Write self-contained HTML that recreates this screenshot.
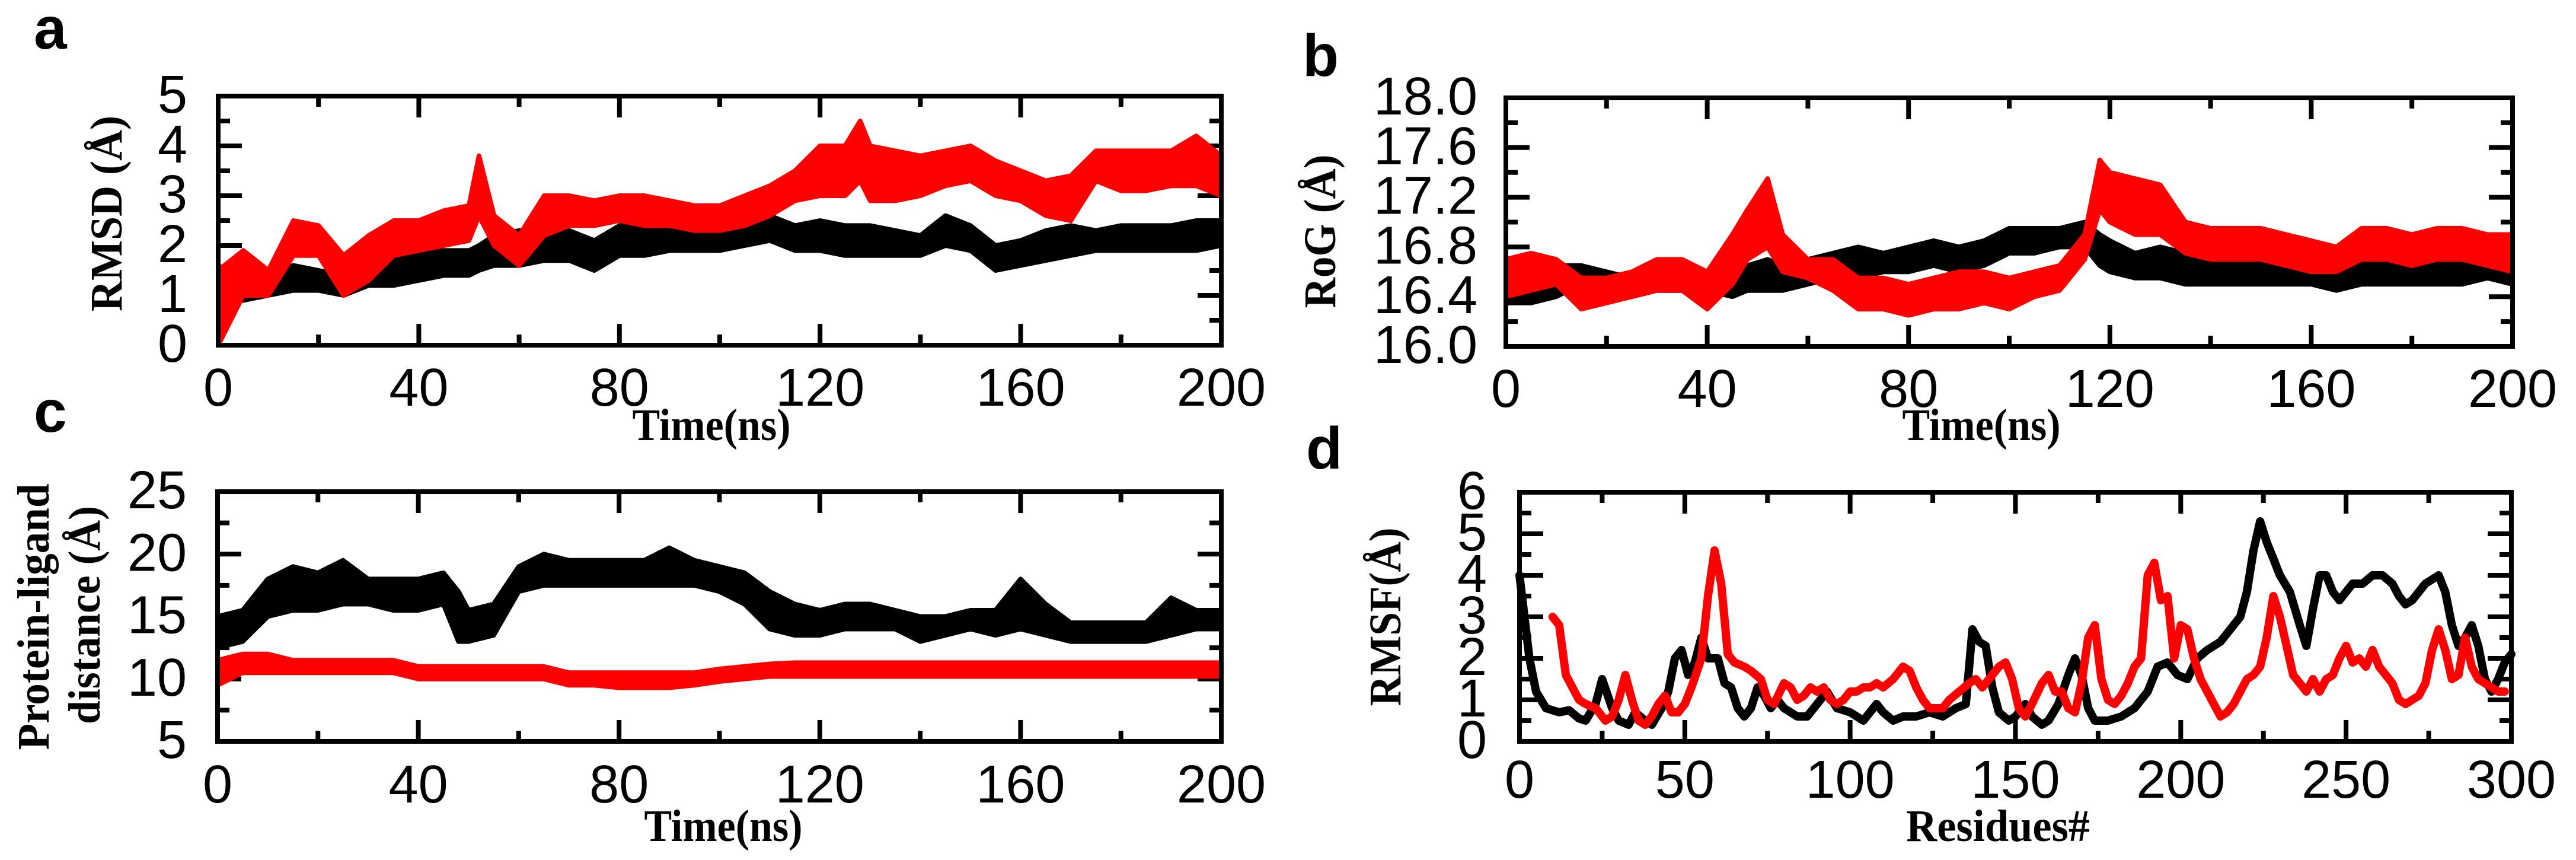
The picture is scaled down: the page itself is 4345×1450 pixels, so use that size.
<!DOCTYPE html>
<html><head><meta charset="utf-8"><style>
html,body{margin:0;padding:0;background:#fff;}
svg{display:block;}
.tk{font-family:"Liberation Sans",Arial,sans-serif;font-size:90px;fill:#000;}
.tt{font-family:"Liberation Serif","Times New Roman",serif;font-weight:bold;font-size:76px;fill:#000;}
.pl{font-family:"Liberation Sans",Arial,sans-serif;font-weight:bold;font-size:100px;fill:#000;}
</style></head><body>
<svg id="fig" width="4345" height="1450" viewBox="0 0 4345 1450" xmlns="http://www.w3.org/2000/svg">
<rect x="0" y="0" width="4345" height="1450" fill="#fff"/>
<text class="pl" x="57" y="82">a</text>
<text class="pl" x="2197" y="128">b</text>
<text class="pl" x="57" y="728">c</text>
<text class="pl" x="2203" y="790">d</text>
</svg>
<script>
// ---- Panel a: RMSD ----
const aTimes = [0,5,10,15,20,25,30,35,40,45,50,52,55,60,65,70,75,80,85,90,95,100,105,110,115,120,125,128,130,135,140,145,150,155,160,165,170,175,180,185,190,195,200];
const aBlackLo = [1.0,0.9,1.0,1.1,1.1,1.0,1.2,1.2,1.3,1.4,1.4,1.5,1.6,1.6,1.7,1.7,1.5,1.8,1.8,1.9,1.9,1.9,2.0,2.1,1.9,1.9,1.8,1.8,1.8,1.8,1.8,2.0,1.9,1.5,1.6,1.7,1.8,1.9,1.9,1.9,1.9,1.9,2.0];
const aBlackHi = [1.6,1.3,1.4,1.6,1.5,1.4,1.5,1.8,1.9,1.9,1.9,2.0,2.2,2.3,2.3,2.3,2.1,2.4,2.4,2.3,2.3,2.4,2.5,2.6,2.4,2.5,2.4,2.4,2.4,2.3,2.2,2.6,2.4,2.0,2.1,2.3,2.4,2.3,2.4,2.4,2.4,2.5,2.5];
const aRedLo = [0.0,1.0,1.0,1.8,1.8,1.0,1.3,1.8,1.9,2.0,2.1,2.6,2.0,1.6,2.2,2.4,2.4,2.5,2.4,2.4,2.3,2.3,2.4,2.6,2.9,3.0,3.0,3.3,2.9,2.9,3.0,3.2,3.3,3.0,2.9,2.6,2.5,3.3,3.1,3.1,3.2,3.2,3.0];
const aRedHi = [1.5,1.9,1.5,2.5,2.4,1.8,2.2,2.5,2.5,2.7,2.8,3.8,2.6,2.2,3.0,3.0,2.9,3.0,3.0,2.9,2.8,2.8,3.0,3.2,3.5,4.0,4.0,4.5,4.0,3.9,3.8,3.9,4.0,3.7,3.5,3.3,3.4,3.9,3.9,3.9,3.9,4.2,3.8];
const aXTicks = ['0','40','80','120','160','200'];
const aYTicks = ['0','1','2','3','4','5'];

// ---- Panel b: RoG ----
const bTimes = [0,5,10,15,20,25,30,35,40,45,48,52,55,60,65,70,75,80,85,90,95,100,105,110,115,118,120,125,130,135,140,145,150,155,160,165,170,175,180,185,190,195,200];
const bBlackLo = [16.35,16.35,16.4,16.5,16.4,16.4,16.45,16.45,16.45,16.4,16.45,16.45,16.45,16.5,16.55,16.55,16.6,16.6,16.65,16.6,16.65,16.75,16.75,16.8,16.8,16.65,16.6,16.55,16.55,16.5,16.5,16.5,16.5,16.5,16.5,16.45,16.5,16.5,16.5,16.5,16.5,16.55,16.5];
const bBlackHi = [16.55,16.55,16.65,16.65,16.6,16.55,16.6,16.6,16.6,16.6,16.65,16.7,16.65,16.7,16.75,16.8,16.75,16.8,16.85,16.8,16.85,16.95,16.95,16.95,17.0,16.9,16.85,16.75,16.8,16.75,16.75,16.75,16.75,16.75,16.75,16.7,16.75,16.75,16.75,16.75,16.75,16.78,16.75];
const bRedLo = [16.4,16.45,16.5,16.3,16.35,16.4,16.45,16.45,16.3,16.5,16.7,16.8,16.6,16.55,16.45,16.3,16.3,16.25,16.3,16.3,16.35,16.3,16.4,16.45,16.7,17.1,17.0,16.9,16.9,16.75,16.7,16.7,16.7,16.65,16.6,16.6,16.7,16.7,16.65,16.7,16.7,16.65,16.6];
const bRedHi = [16.7,16.75,16.7,16.55,16.55,16.6,16.7,16.7,16.6,16.9,17.1,17.35,16.9,16.7,16.7,16.55,16.55,16.5,16.55,16.6,16.6,16.55,16.6,16.65,16.9,17.5,17.4,17.35,17.3,17.0,16.95,16.95,16.95,16.9,16.85,16.8,16.95,16.95,16.9,16.95,16.95,16.9,16.9];
const bXTicks = ['0','40','80','120','160','200'];
const bYTicks = ['16.0','16.4','16.8','17.2','17.6','18.0'];

// ---- Panel c: Protein-ligand distance ----
const cTimes = [0,5,10,15,20,25,30,35,40,45,48,50,55,60,65,70,75,80,85,90,95,100,105,110,115,120,125,130,135,140,145,150,155,160,165,170,175,180,185,190,195,200];
const cBlackLo = [12.5,13,15,15.5,15.5,16,16,15.5,15.5,16,13,13,13.5,17,17.5,17.5,17.5,17.5,17.5,17.5,17.5,17,16,14,13.5,13.5,14,14,14,13,13.5,14,13.5,14,13.5,13,13,13,13,13.5,14,14];
const cBlackHi = [15,15.5,18,19,18.5,19.5,18,18,18,18.5,17,15.5,16,19,20,19.5,19.5,19.5,19.5,20.5,19.5,19,18.5,17,16,15.5,16,16,15.5,15,15,15.5,15.5,18,16,14.5,14.5,14.5,14.5,16.5,15.5,15.5];
const cRedLo = [9.5,10.5,10.5,10.5,10.5,10.5,10.5,10.5,10,10,10,10,10,10,10,9.5,9.5,9.3,9.3,9.3,9.5,9.8,10,10.2,10.2,10.2,10.2,10.2,10.2,10.2,10.2,10.2,10.2,10.2,10.2,10.2,10.2,10.2,10.2,10.2,10.2,10.2];
const cRedHi = [11.5,12,12,11.5,11.5,11.5,11.5,11.5,11,11,11,11,11,11,11,10.5,10.5,10.5,10.5,10.5,10.5,10.8,11,11.2,11.3,11.3,11.3,11.3,11.3,11.3,11.3,11.3,11.3,11.3,11.3,11.3,11.3,11.3,11.3,11.3,11.3,11.3];
const cXTicks = ['0','40','80','120','160','200'];
const cYTicks = ['5','10','15','20','25'];

// ---- Panel d: RMSF ----
const dBlackRes = [0,3,5,8,12,15,18,20,23,25,28,30,33,35,38,40,43,45,47,49,51,53,55,57,60,62,64,66,68,70,72,74,76,78,80,84,87,90,93,96,100,104,108,110,113,116,120,124,128,132,135,137,139,141,143,145,148,150,153,155,158,160,163,166,168,170,172,174,178,182,186,190,193,196,199,202,205,208,212,215,218,220,222,224,226,228,230,233,236,238,240,242,244,246,248,250,252,255,258,261,264,266,268,270,272,274,276,278,280,282,284,286,288,290,292,294,296,298,300];
const dBlackVal = [4.0,2.0,1.2,0.8,0.7,0.75,0.55,0.5,0.9,1.5,0.8,0.5,0.4,0.7,0.5,0.4,0.8,1.2,2.0,2.2,1.6,1.9,2.5,2.0,2.0,1.4,1.3,0.8,0.6,0.8,1.3,1.1,0.8,1.0,0.8,0.6,0.6,0.9,1.2,0.8,0.7,0.5,0.9,0.7,0.5,0.6,0.6,0.7,0.6,0.8,0.9,2.7,2.4,2.3,1.3,0.7,0.5,0.6,0.9,0.6,0.4,0.5,0.9,1.6,2.0,1.6,0.8,0.5,0.5,0.6,0.8,1.2,1.8,1.9,1.6,1.5,2.0,2.2,2.4,2.7,3.0,3.6,4.6,5.3,4.8,4.4,4.0,3.6,2.8,2.3,3.2,4.0,4.0,3.6,3.4,3.6,3.8,3.8,4.0,4.0,3.8,3.5,3.3,3.4,3.6,3.8,3.9,4.0,3.6,2.8,2.3,2.5,2.8,2.3,1.5,1.2,1.5,1.9,2.1];
const dRedRes = [10,12,14,16,18,20,23,26,28,30,32,34,36,38,40,42,44,46,48,50,52,55,57,59,61,63,65,68,70,73,75,77,80,82,84,86,88,90,92,94,96,98,100,102,104,106,108,110,113,116,118,120,122,124,126,128,130,133,136,138,140,142,145,147,149,151,153,155,158,160,162,164,166,168,170,172,174,176,178,180,182,184,186,188,190,192,194,196,198,200,202,204,206,208,210,212,214,216,218,220,222,224,226,228,230,232,234,236,238,240,242,244,246,248,250,252,254,256,258,260,262,264,266,268,270,272,274,276,278,280,282,284,286,288,290,292,294,296,298];
const dRedVal = [3.0,2.8,1.6,1.3,1.0,0.9,0.8,0.5,0.6,1.0,1.6,1.0,0.5,0.4,0.6,0.9,1.1,0.7,0.7,0.9,1.3,2.0,3.5,4.6,3.8,2.1,1.9,1.8,1.7,1.5,1.0,0.9,1.4,1.3,1.0,1.1,1.3,1.2,1.3,1.0,0.9,1.0,1.2,1.2,1.3,1.3,1.4,1.3,1.5,1.8,1.7,1.3,1.0,0.8,0.8,0.8,1.0,1.2,1.4,1.5,1.3,1.5,1.8,1.9,1.5,0.8,0.6,0.9,1.4,1.6,1.2,1.2,0.8,0.7,1.4,2.5,2.8,1.5,1.0,0.9,1.1,1.4,1.8,2.0,4.0,4.3,3.4,3.5,2.0,2.8,2.7,2.0,1.5,1.2,0.9,0.6,0.7,0.9,1.2,1.5,1.6,1.8,2.5,3.5,3.0,2.3,1.6,1.4,1.2,1.5,1.2,1.5,1.6,2.0,2.3,1.9,2.0,1.8,2.2,1.8,1.6,1.4,1.0,0.9,1.0,1.1,1.4,2.2,2.7,2.2,1.5,1.6,2.5,1.8,1.5,1.4,1.3,1.2,1.2];
const dXTicks = ['0','50','100','150','200','250','300'];
const dYTicks = ['0','1','2','3','4','5','6'];

const NS = 'http://www.w3.org/2000/svg';
const svg = document.getElementById('fig');
function mk(tag, attrs, parent){
  const e = document.createElementNS(NS, tag);
  for (const k in attrs) e.setAttribute(k, attrs[k]);
  (parent||svg).appendChild(e);
  return e;
}
function scale(d0,d1,r0,r1){ return v => r0 + (v-d0)/(d1-d0)*(r1-r0); }

function panel(id, box, xd, yd, xTicks, yTicks, xMinorStep, yMinorStep, xLabBase, yLabRight){
  const g = mk('g', {});
  
  
  const sx = scale(xd[0], xd[1], box.L, box.R);
  const sy = scale(yd[0], yd[1], box.B, box.T);
  const ticksG = mk('g', {stroke:'#000','stroke-width':8,fill:'none'}, g);
  
  
  const xmaj = xTicks.map(Number);
  for (let v = xd[0]; v <= xd[1] + 1e-9; v += xMinorStep){
    const isMaj = xmaj.some(m => Math.abs(m - v) < 1e-6);
    const len = isMaj ? 36 : 18;
    const x = sx(v);
    mk('line', {x1:x, y1:box.B, x2:x, y2:box.B - len}, ticksG);
    mk('line', {x1:x, y1:box.T, x2:x, y2:box.T + len}, ticksG);
  }
  const ymaj = yTicks.map(Number);
  for (let v = yd[0]; v <= yd[1] + 1e-9; v += yMinorStep){
    const isMaj = ymaj.some(m => Math.abs(m - v) < 1e-6);
    const len = isMaj ? 40 : 20;
    const y = sy(v);
    mk('line', {x1:box.L, y1:y, x2:box.L + len, y2:y}, ticksG);
    mk('line', {x1:box.R, y1:y, x2:box.R - len, y2:y}, ticksG);
  }
  xTicks.forEach(t => {
    const tx = mk('text', {class:'tk', x:sx(Number(t)), y:xLabBase, 'text-anchor':'middle'}, g);
    
    
    tx.textContent = t;
  });
  yTicks.forEach(t => {
    const ty = mk('text', {class:'tk', x:yLabRight, y:sy(Number(t)) + 28, 'text-anchor':'end'}, g);
    
    
    ty.textContent = t;
  });
  return {g, sx, sy, box};
}
function band(p, xs, lo, hi, color, name){
  let pts = [];
  for (let i = 0; i < xs.length; i++) pts.push(p.sx(xs[i]).toFixed(1) + ',' + p.sy(hi[i]).toFixed(1));
  for (let i = xs.length - 1; i >= 0; i--) pts.push(p.sx(xs[i]).toFixed(1) + ',' + p.sy(lo[i]).toFixed(1));
  const e = mk('polygon', {points:pts.join(' '), fill:color, stroke:color, 'stroke-width':8, 'stroke-linejoin':'round'}, p.g);
  
  
}
function line(p, xs, ys, color, name){
  const pts = xs.map((x,i) => p.sx(x).toFixed(1) + ',' + p.sy(ys[i]).toFixed(1)).join(' ');
  const e = mk('polyline', {points:pts, fill:'none', stroke:color, 'stroke-width':14, 'stroke-linejoin':'round', 'stroke-linecap':'round'}, p.g);
  
  
}
function frame(p){
  const b = p.box;
  const f = mk('rect', {x:b.L, y:b.T, width:b.R-b.L, height:b.B-b.T, fill:'none', stroke:'#000', 'stroke-width':8}, p.g);
  
  
}
function title(txt, x, y, len, rot, name){
  const t = mk('text', {class:'tt', x:x, y:y, 'text-anchor':'middle', textLength:len, lengthAdjust:'spacingAndGlyphs'});
  if (rot) t.setAttribute('transform', 'rotate(-90 ' + x + ' ' + y + ')');
  
  
  t.textContent = txt;
}

const pa = panel('a', {L:368,R:2060,T:162,B:582}, [0,200], [0,5], aXTicks, aYTicks, 20, 0.5, 684, 316);
band(pa, aTimes, aBlackLo, aBlackHi, '#000', 'rmsd-black-series');
band(pa, aTimes, aRedLo, aRedHi, '#ff0000', 'rmsd-red-series');
frame(pa);

const pb = panel('b', {L:2540,R:4238,T:165,B:584}, [0,200], [16,18], bXTicks, bYTicks, 20, 0.2, 686, 2492);
band(pb, bTimes, bBlackLo, bBlackHi, '#000', 'rog-black-series');
band(pb, bTimes, bRedLo, bRedHi, '#ff0000', 'rog-red-series');
frame(pb);

const pc = panel('c', {L:367,R:2060,T:829,B:1250}, [0,200], [5,25], cXTicks, cYTicks, 20, 2.5, 1353, 315);
band(pc, cTimes, cBlackLo, cBlackHi, '#000', 'distance-black-series');
band(pc, cTimes, cRedLo, cRedHi, '#ff0000', 'distance-red-series');
frame(pc);

const pd = panel('d', {L:2563,R:4236,T:830,B:1250}, [0,300], [0,6], dXTicks, dYTicks, 25, 0.5, 1345, 2508);
line(pd, dBlackRes, dBlackVal, '#000', 'rmsf-black-series');
line(pd, dRedRes, dRedVal, '#ff0000', 'rmsf-red-series');
frame(pd);

title('Time(ns)', 1200, 742, 267, false, 'x-axis-title-a');
title('Time(ns)', 3342, 742, 267, false, 'x-axis-title-b');
title('Time(ns)', 1220, 1418, 267, false, 'x-axis-title-c');
title('Residues#', 3370, 1418, 310, false, 'x-axis-title-d');
title('RMSD (Å)', 205, 360, 330, true, 'y-axis-title-a');
title('RoG (Å)', 2252, 390, 259, true, 'y-axis-title-b');
title('RMSF(Å)', 2362, 1040, 301, true, 'y-axis-title-d');
title('Protein-ligand', 82, 1040, 449, true, 'y-axis-title-c-line1');
title('distance (Å)', 168, 1037, 368, true, 'y-axis-title-c-line2');
</script>
</body></html>
